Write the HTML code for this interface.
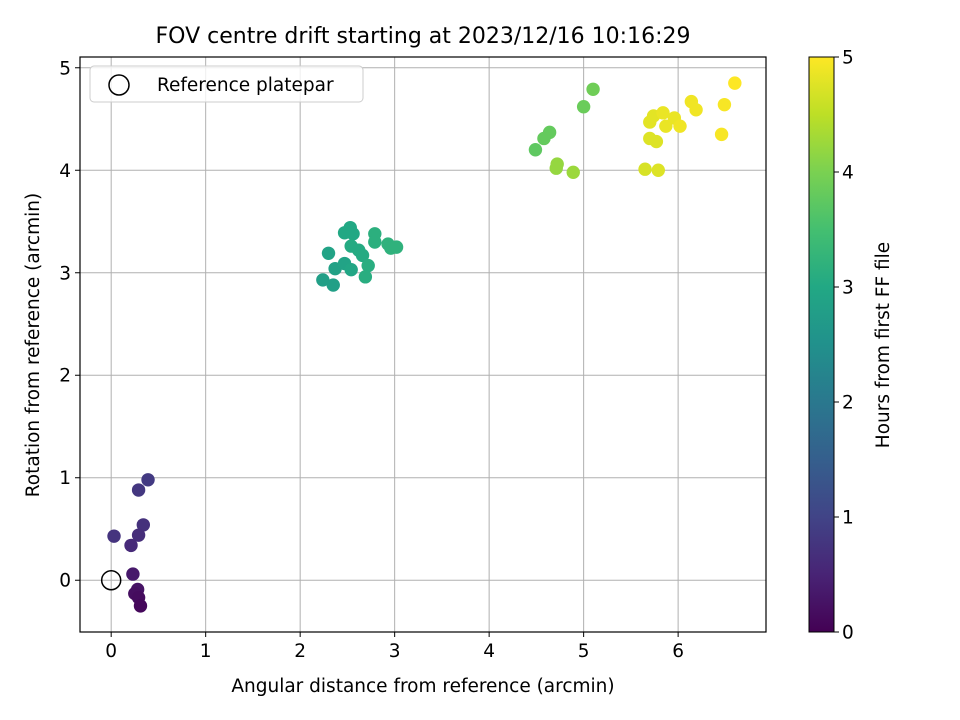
<!DOCTYPE html>
<html><head><meta charset="utf-8"><style>
html,body{margin:0;padding:0;background:#fff;}
svg{display:block;font-family:"DejaVu Sans","Liberation Sans",sans-serif;}
</style></head><body>
<svg id="chart" width="960" height="720" viewBox="0 0 960 720">
<text x="423" y="43" font-size="22" text-anchor="middle">FOV centre drift starting at 2023/12/16 10:16:29</text>
<g id="grid"></g><g id="pts"></g><g id="axes"></g>
<text x="423" y="692" font-size="18.5" text-anchor="middle">Angular distance from reference (arcmin)</text>
<text x="0" y="0" font-size="18.5" text-anchor="middle" transform="translate(39,345) rotate(-90)">Rotation from reference (arcmin)</text>
<g>
<rect x="90" y="66" width="273" height="36" rx="4" fill="#fff" fill-opacity="0.8" stroke="#ccc"/>
<circle cx="119" cy="85" r="10" fill="none" stroke="#000" stroke-width="1.5"/>
<text x="157" y="91" font-size="18.5">Reference platepar</text>
</g>
<defs><linearGradient id="vir" x1="0" y1="1" x2="0" y2="0"></linearGradient></defs>
<rect x="809" y="57" width="25" height="575" fill="url(#vir)" stroke="#000" stroke-width="1"/>
<g id="cbticks"></g>
<text x="0" y="0" font-size="18.5" text-anchor="middle" transform="translate(889,345) rotate(-90)">Hours from first FF file</text>
</svg>
<script>
const xs=[0.39,0.29,0.03,0.34,0.29,0.21,0.23,0.28,0.25,0.29,0.31,
2.30,2.24,2.35,2.37,2.47,2.54,2.47,2.53,2.56,2.54,2.62,2.66,2.72,2.69,2.79,2.79,2.93,2.96,3.02,
5.10,5.00,4.64,4.58,4.49,4.72,4.71,4.89,
5.65,5.79,5.70,5.77,5.70,5.74,5.84,5.87,5.96,6.02,6.14,6.19,6.49,6.46,6.60];
const ys=[0.98,0.88,0.43,0.54,0.44,0.34,0.06,-0.09,-0.13,-0.17,-0.25,
3.19,2.93,2.88,3.04,3.09,3.03,3.39,3.44,3.38,3.26,3.22,3.17,3.07,2.96,3.38,3.30,3.28,3.24,3.25,
4.79,4.62,4.37,4.31,4.20,4.06,4.02,3.98,
4.01,4.00,4.31,4.28,4.47,4.53,4.56,4.43,4.51,4.43,4.67,4.59,4.64,4.35,4.85];
const hours=[0.85,0.8,0.75,0.7,0.65,0.6,0.35,0.25,0.2,0.15,0.1,
2.9,2.8,2.8,2.85,2.9,2.95,3.0,3.0,3.0,3.05,3.05,3.05,3.1,3.1,3.15,3.15,3.2,3.2,3.2,
3.9,3.85,3.8,3.8,3.75,4.2,4.2,4.25,
4.7,4.75,4.75,4.75,4.8,4.8,4.85,4.85,4.85,4.9,4.9,4.9,4.95,4.95,5.0];
const xTicks=[0,1,2,3,4,5,6];
const yTicks=[0,1,2,3,4,5];
const cTicks=[0,1,2,3,4,5];
const L=80,R=766,T=57,B=632,XMIN=-0.33,XMAX=6.93,YMIN=-0.505,YMAX=5.105;
const sx=v=>L+(v-XMIN)/(XMAX-XMIN)*(R-L);
const sy=v=>B-(v-YMIN)/(YMAX-YMIN)*(B-T);
const vstops=[[0,'#440154'],[0.1,'#482475'],[0.2,'#414487'],[0.3,'#355f8d'],[0.4,'#2a788e'],[0.5,'#21918c'],[0.6,'#22a884'],[0.7,'#44bf70'],[0.8,'#7ad151'],[0.9,'#bddf26'],[1,'#fde725']];
function hex(h){return [1,3,5].map(i=>parseInt(h.substr(i,2),16));}
function vir(t){t=Math.max(0,Math.min(1,t));for(let i=1;i<vstops.length;i++){if(t<=vstops[i][0]){const a=vstops[i-1],b=vstops[i];const f=(t-a[0])/(b[0]-a[0]);const ca=hex(a[1]),cb=hex(b[1]);return 'rgb('+ca.map((c,k)=>Math.round(c+(cb[k]-c)*f)).join(',')+')';}}return vstops[10][1];}
const NS='http://www.w3.org/2000/svg';
function mk(tag,attrs,parent){const e=document.createElementNS(NS,tag);for(const k in attrs)e.setAttribute(k,attrs[k]);parent.appendChild(e);return e;}
const grid=document.getElementById('grid'),axes=document.getElementById('axes'),pts=document.getElementById('pts');
xTicks.forEach(t=>{const x=sx(t);
const g=mk('line',{x1:x,x2:x,y1:T,y2:B,stroke:'#b0b0b0','stroke-width':1},grid);


mk('line',{x1:x,x2:x,y1:B,y2:B+5,stroke:'#000'},axes);
const tx=mk('text',{x:x,y:B+25,'font-size':18.5,'text-anchor':'middle'},axes);tx.textContent=t;

});
yTicks.forEach(t=>{const y=sy(t);
const g=mk('line',{x1:L,x2:R,y1:y,y2:y,stroke:'#b0b0b0','stroke-width':1},grid);


mk('line',{x1:L-5,x2:L,y1:y,y2:y,stroke:'#000'},axes);
const tx=mk('text',{x:L-9,y:y+6.5,'font-size':18.5,'text-anchor':'end'},axes);tx.textContent=t;

});
const fr=mk('rect',{x:L,y:T,width:R-L,height:B-T,fill:'none',stroke:'#000','stroke-width':1.2},axes);


xs.forEach((x,i)=>{const c=mk('circle',{cx:sx(x),cy:sy(ys[i]),r:6.7,fill:vir(hours[i]/5)},pts);

});
const ref=mk('circle',{cx:sx(0),cy:sy(0),r:9.5,fill:'none',stroke:'#000','stroke-width':1.5},pts);


const grad=document.getElementById('vir');
vstops.forEach(s=>mk('stop',{offset:s[0],'stop-color':s[1]},grad));
const cb=document.getElementById('cbticks');
cTicks.forEach(t=>{const y=632-t/5*575;
mk('line',{x1:834,x2:839,y1:y,y2:y,stroke:'#000'},cb);
const tx=mk('text',{x:842,y:y+6.5,'font-size':18.5},cb);tx.textContent=t;

});
</script>
</body></html>
